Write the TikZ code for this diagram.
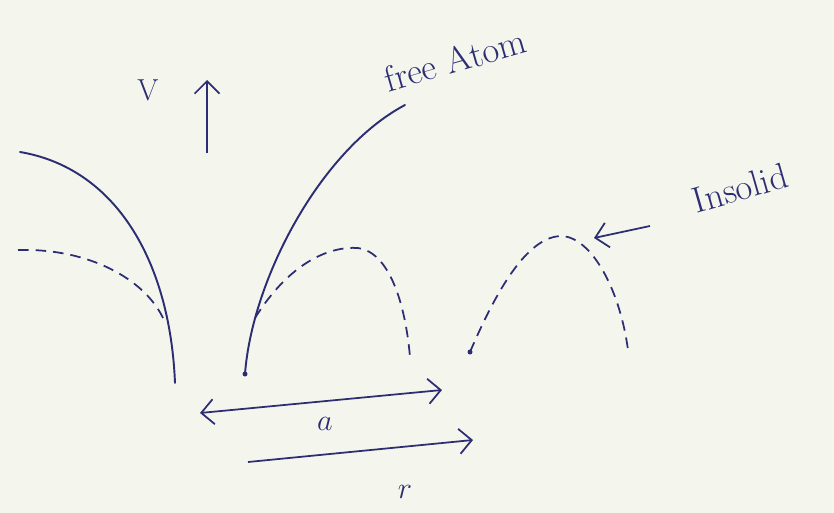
\documentclass[tikz,border=0pt]{standalone}
\usepackage{xcolor}
\usepackage{tikz}
\usetikzlibrary{arrows.meta, positioning, calc}

\definecolor{ink}{RGB}{45,45,115}
\definecolor{paper}{RGB}{244,246,238}

\begin{document}
\begin{tikzpicture}[
    x=0.02cm, y=-0.02cm,
    curve/.style={ink, line width=1.1pt, line cap=round},
    dcurve/.style={ink, line width=1pt, dash pattern=on 6pt off 4pt},
    arrow/.style={-{Straight Barb[length=2.5mm]}, ink, line width=1pt},
    label/.style={ink, font=\LARGE}
]

% Paper
\fill[paper] (0,0) rectangle (834,513);
\useasboundingbox (0,0) rectangle (834,513);

% Potential axis
\coordinate (vbot) at (207,153);
\coordinate (vtop) at (207,80);
\node[label] (vlab) at (148,90) {V};
\draw[arrow] (vbot) -- (vtop);

% Free atom potentials (solid)
\coordinate (l1) at (20,152);
\coordinate (l2) at (175,383);
\draw[curve] (l1) .. controls (115,168) and (170,260) .. (l2);

\coordinate (r1) at (245,374);
\coordinate (r2) at (405,105);
\draw[curve] (r1) .. controls (252,280) and (320,150) .. (r2);
\fill[ink] (r1) circle (2.5);

\node[label, scale=1.2, rotate=16] (free) at (455,60) {free Atom};

% Potentials in solid (dashed)
\coordinate (d1) at (18,250);
\coordinate (d2) at (163,318);
\draw[dcurve] (d1) .. controls (90,248) and (145,280) .. (d2);

\coordinate (m1) at (255,318);
\coordinate (mtop) at (358,248);
\coordinate (m2) at (410,357);
\draw[dcurve] (m1) .. controls (290,262) and (330,246) .. (mtop)
              .. controls (388,252) and (405,300) .. (m2);

\coordinate (s1) at (470,352);
\coordinate (stop) at (562,236);
\coordinate (s2) at (628,350);
\draw[dcurve] (s1) .. controls (500,282) and (530,236) .. (stop)
              .. controls (592,238) and (620,290) .. (s2);
\fill[ink] (s1) circle (2.5);

\node[label, scale=1.2, rotate=16] (solid) at (740,188) {Insolid};
\coordinate (sfrom) at (650,226);
\coordinate (stip) at (594,238);
\draw[arrow] (sfrom) -- (stip);

% Lattice spacing and distance
\coordinate (a1) at (200,413);
\coordinate (a2) at (442,390);
\draw[arrow, {Straight Barb[length=2.5mm]}-{Straight Barb[length=2.5mm]}] (a1) -- (a2);
\node[label] (alab) at (325,424) {$a$};

\coordinate (rr1) at (248,462);
\coordinate (rr2) at (473,440);
\draw[arrow] (rr1) -- (rr2);
\node[label] (rlab) at (405,492) {$r$};

\end{tikzpicture}
\end{document}
